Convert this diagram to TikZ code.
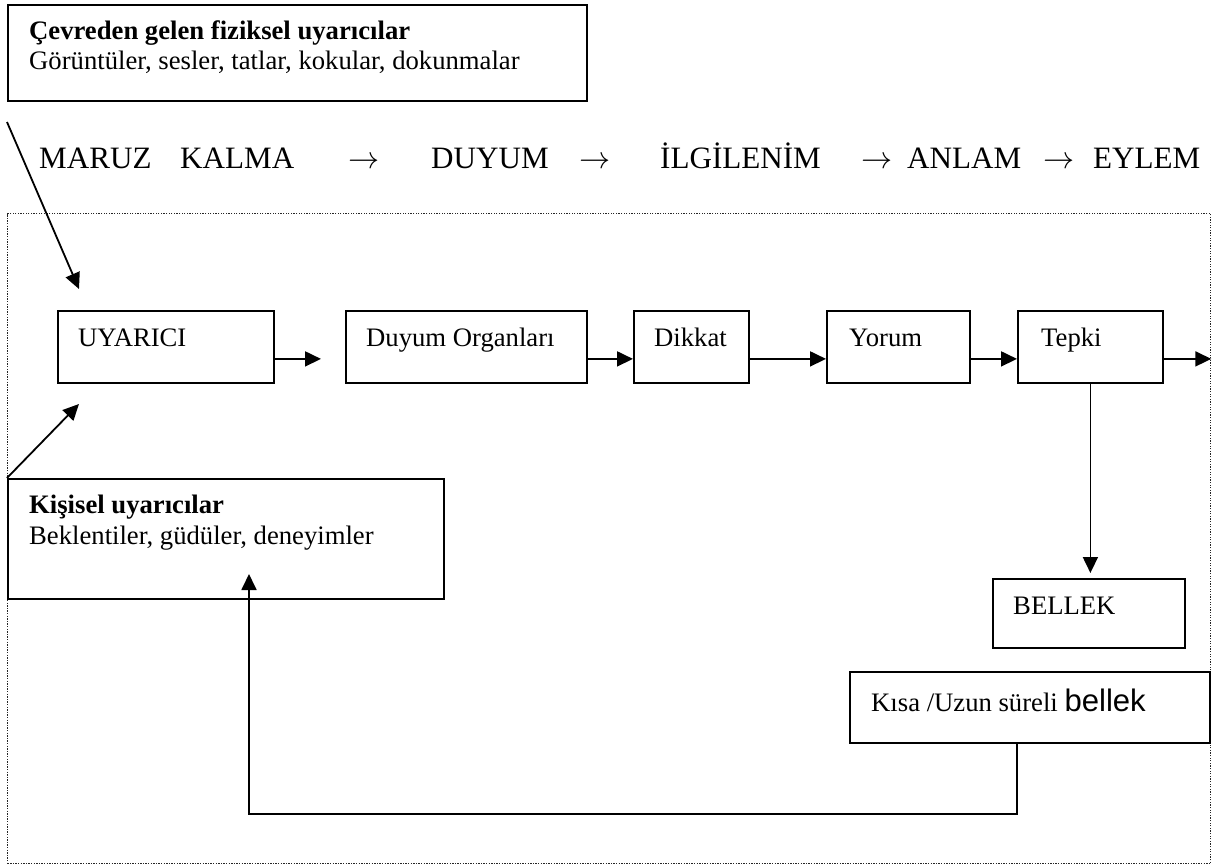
\RequirePackage{fix-cm}
\documentclass[tikz,border=0pt]{standalone}
\usepackage{fontspec}
\setmainfont{Liberation Serif}
\newfontfamily\sansbig{Liberation Sans}
\usetikzlibrary{arrows.meta}
\newcommand{\harr}{\ensuremath{\rightarrow}}
\begin{document}
\begin{tikzpicture}[x=1pt,y=-1pt,
  box/.style={draw, line width=1.8pt, rectangle, anchor=north west, inner sep=0pt},
  txt/.style={anchor=base west, inner sep=0pt, font=\fontsize{26.67}{30.7}\selectfont},
  head/.style={anchor=base west, inner sep=0pt, font=\fontsize{31.1}{35}\selectfont},
  arr/.style={line width=1.8pt, -{Triangle[length=16pt,width=15pt]}},
  frame/.style={draw, dash pattern=on 1.3pt off 1.3pt, line width=1.3pt, black!85,
                rectangle, anchor=north west, inner sep=0pt}
]
\useasboundingbox (0,0) rectangle (1226,867);

% outer dotted frame
\node[frame, minimum width=1203pt, minimum height=650pt] (frm) at (7,213) {};

% stimulus source boxes
\node[box, minimum width=579pt, minimum height=96pt] (cevre) at (7,4) {};
\node[txt, font=\fontsize{26.67}{30.7}\selectfont\bfseries] (cevre1) at (29,40) {Çevreden gelen fiziksel uyarıcılar};
\node[txt] (cevre2) at (29,70) {Görüntüler, sesler, tatlar, kokular, dokunmalar};

\node[box, minimum width=436pt, minimum height=120pt] (kisisel) at (7,478) {};
\node[txt, font=\fontsize{26.67}{30.7}\selectfont\bfseries] (kisisel1) at (29,513) {Kişisel uyarıcılar};
\node[txt] (kisisel2) at (29,544) {Beklentiler, güdüler, deneyimler};

% heading line
\node[head] (h1) at (39,168) {MARUZ};
\node[head] (h2) at (180,168) {KALMA};
\node[head] (h3) at (348,168) {\harr};
\node[head] (h4) at (431,168) {DUYUM};
\node[head] (h5) at (579,168) {\harr};
\node[head] (h6) at (660,168) {İLGİLENİM};
\node[head] (h7) at (861,168) {\harr};
\node[head] (h8) at (907,168) {ANLAM};
\node[head] (h9) at (1043,168) {\harr};
\node[head] (h10) at (1093,168) {EYLEM};

% process chain
\node[box, minimum width=216pt, minimum height=72pt] (uyarici) at (57,310) {};
\node[txt] (uyaricit) at (78,346) {UYARICI};
\node[box, minimum width=241pt, minimum height=72pt] (duyum) at (345,310) {};
\node[txt] (duyumt) at (366,346) {Duyum Organları};
\node[box, minimum width=115pt, minimum height=72pt] (dikkat) at (633,310) {};
\node[txt] (dikkatt) at (654,346) {Dikkat};
\node[box, minimum width=143pt, minimum height=72pt] (yorum) at (826,310) {};
\node[txt] (yorumt) at (849,346) {Yorum};
\node[box, minimum width=145pt, minimum height=72pt] (tepki) at (1017,310) {};
\node[txt] (tepkit) at (1041,346) {Tepki};

% memory boxes
\node[box, minimum width=192pt, minimum height=69pt] (bellek) at (992,578) {};
\node[txt] (bellekt) at (1013,614) {BELLEK};
\node[box, minimum width=360pt, minimum height=71pt] (kisa) at (849,671) {};
\node[txt] (kisat) at (871,711) {Kısa /Uzun süreli {\sansbig\fontsize{31.1}{35}\selectfont bellek}};

% helper points
\coordinate (d1s) at (7,122);
\coordinate (d1e) at (79,289);
\coordinate (d2e) at (79,404);
\coordinate (fbx) at (1017,0);
\coordinate (fbcorner) at (249,814);
\coordinate (kisin) at (249,574);

% connectors
\draw[arr] (d1s) -- (d1e);
\draw[arr] (kisisel.north west) -- (d2e);
\draw[arr, shorten >=24pt] ([yshift=-12pt]uyarici.east) -- ([yshift=-12pt]duyum.west);
\draw[arr] ([yshift=-12pt]duyum.east) -- ([yshift=-12pt]dikkat.west);
\draw[arr] ([yshift=-12pt]dikkat.east) -- ([yshift=-12pt]yorum.west);
\draw[arr] ([yshift=-12pt]yorum.east) -- ([yshift=-12pt]tepki.west);
\draw[arr] ([yshift=-12pt]tepki.east) -- ([yshift=-12pt]tepki.east -| frm.east);
\draw[arr, shorten >=5pt] (tepki.south) -- (tepki.south |- bellek.north);
\draw[arr] (kisa.south -| fbx) |- (fbcorner) -- (kisin);
\end{tikzpicture}
\end{document}
